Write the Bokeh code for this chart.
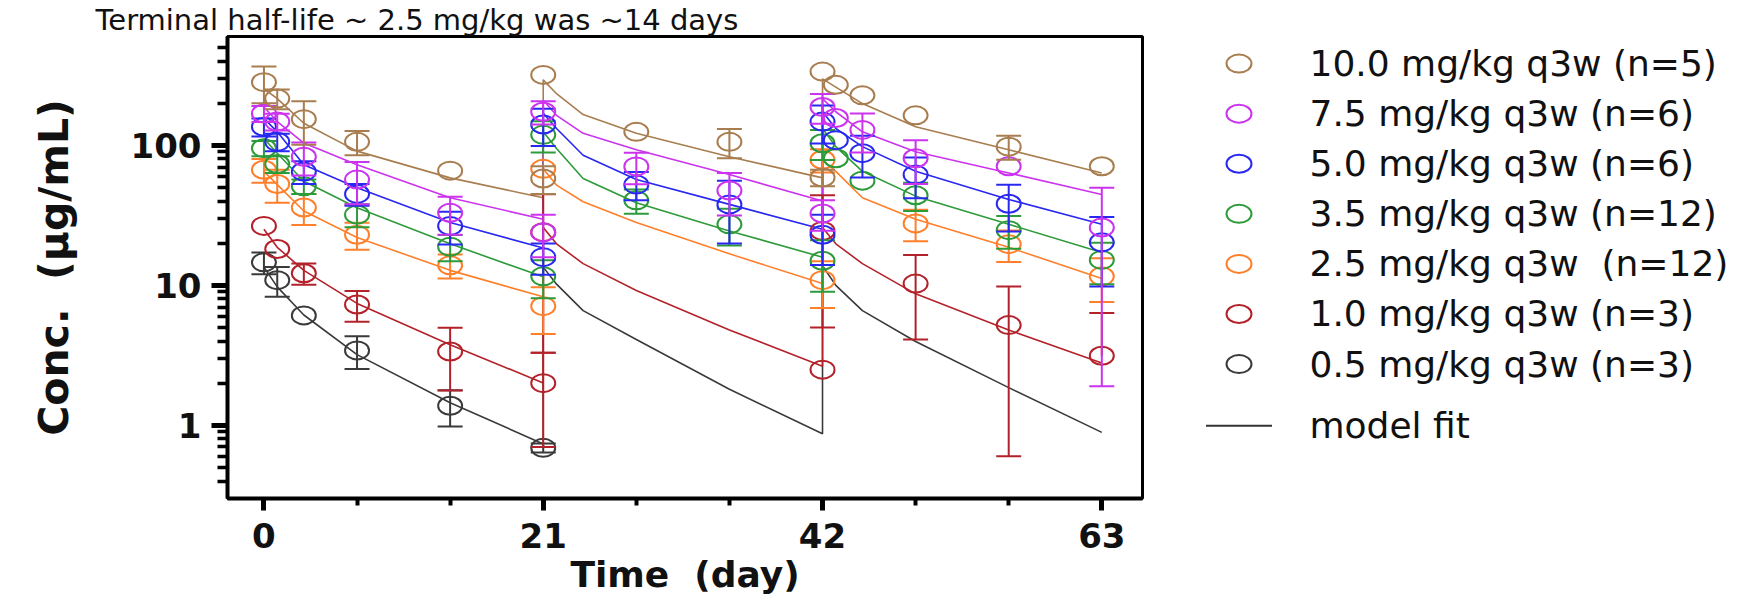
from bokeh.plotting import figure
from bokeh.models import Range1d, FixedTicker, BasicTickFormatter, ColumnDataSource
from bokeh.layouts import row
from bokeh.embed import file_html
from bokeh.resources import INLINE
from bokeh.core.properties import value

# ---------------- data ----------------
dose_labels = ["10.0 mg/kg q3w (n=5)", "7.5 mg/kg q3w (n=6)", "5.0 mg/kg q3w (n=6)",
               "3.5 mg/kg q3w (n=12)", "2.5 mg/kg q3w\u00a0 (n=12)", "1.0 mg/kg q3w (n=3)",
               "0.5 mg/kg q3w (n=3)"]
colors = ["#A87D4F", "#CC33EE", "#2828F0", "#2D9B3A", "#FF7F2A", "#B3222A", "#3A3A3A"]

x_ticks = [0, 21, 42, 63]
x_minor = [7, 14, 28, 35, 49, 56]
y_ticks = [1, 10, 100]
y_minor = [0.4, 0.5, 0.6, 0.7, 0.8, 0.9, 2, 3, 4, 5, 6, 7, 8, 9,
           20, 30, 40, 50, 60, 70, 80, 90, 200, 300, 400, 500]

days_full = [0, 1, 3, 7, 14, 21, 21, 28, 35, 42, 42, 43, 45, 49, 56, 63]
mean_d100 = [283, 216, 154, 106, 66, 58, 319, 125, 106, 59, 337, 271, 228, 164, 98, 71]
sd_d100 = [83, 35, 53, 21, 0, 13, 0, 0, 25, 8, 0, 0, 0, 0, 19, 0]
mean_d075 = [169, 148, 83, 57, 33, 23.9, 174, 70.8, 47.6, 32.6, 188, 157, 129, 81, 71, 25.9]
sd_d075 = [22, 20, 22, 19, 10, 8, 33, 18, 16, 8, 45, 0, 40, 28, 0, 24]
mean_d050 = [136, 106, 65, 45, 26.6, 15.9, 141, 52.5, 37.9, 23, 148, 109, 88, 61.9, 38.3, 20.3]
sd_d050 = [20, 15, 12, 8, 7, 4, 42, 12, 18, 9, 45, 0, 29, 20, 14, 10.5]
mean_d035 = [95.5, 73.6, 51, 32, 18.9, 11.6, 119, 40.5, 27.3, 15, 103.6, 81, 56, 44, 24.8, 15.2]
sd_d035 = [12, 10, 6, 6, 4, 3.5, 30, 8, 8, 6, 25, 0, 0, 10, 6.5, 5]
days_d025 = [0, 1, 3, 7, 14, 21, 21, 42, 42, 49, 56, 63]
mean_d025 = [67, 53, 36, 23, 13.9, 7.1, 68, 10.9, 79, 27.7, 19.7, 11.6]
sd_d025 = [13, 14, 9, 5, 2.7, 2.6, 0, 4, 15, 7, 5, 4]
days_d010 = [0, 1, 3, 7, 14, 21, 21, 42, 42, 49, 56, 63]
mean_d010 = [26.6, 18.2, 12.2, 7.3, 3.37, 2.0, 24, 2.5, 24.5, 10.3, 5.2, 3.14]
sd_d010 = [0, 0, 2.1, 1.8, 1.6, 1.3, 20.7, 0, 19.5, 6.2, 4.6, 3.2]
days_d005 = [0, 1, 3, 7, 14, 21]
mean_d005 = [14.6, 10.9, 6.1, 3.43, 1.38, 0.69]
sd_d005 = [2.6, 2.6, 0, 0.9, 0.4, 0.05]

fit_days = [0, 1, 3, 7, 14, 21, 21, 22, 24, 28, 35, 42, 42, 43, 45, 49, 56, 63]
fit_d100 = [254, 216, 144, 91, 58.6, 42.3, 294, 234, 166, 122, 83, 58.6, 299, 261, 199, 136, 93, 63.5]
fit_d075 = [188, 148, 104, 72.8, 42.3, 29.7, 210, 164, 122, 93, 61.9, 40, 216, 174, 125, 90, 63.5, 44.6]
fit_d050 = [156, 125, 72.8, 49.8, 28.1, 18.5, 170, 132, 85, 57, 37.9, 25.2, 174, 132, 98, 65.3, 41.1, 27.3]
fit_d035 = [112, 88, 55.5, 35.9, 19.8, 11.5, 125, 95, 58, 38.9, 24.5, 15.9, 132, 98, 65.3, 43.4, 27.3, 17.2]
fit_d025 = [65.3, 52.5, 34, 22, 12.8, 8.28, 68, 52, 39.6, 28.1, 16.8, 10.3, 79, 65.3, 42.3, 29.7, 18.7, 11.2]
fit_d010 = [25.2, 18.7, 12.8, 7.43, 3.76, 2.01, 25.9, 19.8, 14.3, 9.2, 4.8, 2.64, 25.9, 19.8, 14.3, 8.7, 4.8, 2.79]
fit_d005 = [13.5, 9.75, 6.14, 3.2, 1.45, 0.736, 13.5, 10.2, 6.6, 4.1, 1.81, 0.87, 13.8, 10.0, 6.6, 3.97, 1.86, 0.89]

title_text = "Terminal half-life ~ 2.5 mg/kg was ~14 days"
x_label = "Time\u00a0 (day)"
y_label = "Conc.\u00a0 (\u00b5g/mL)"
fit_label = "model fit"

series = [
    (colors[0], days_full, mean_d100, sd_d100, fit_d100),
    (colors[1], days_full, mean_d075, sd_d075, fit_d075),
    (colors[2], days_full, mean_d050, sd_d050, fit_d050),
    (colors[3], days_full, mean_d035, sd_d035, fit_d035),
    (colors[4], days_d025, mean_d025, sd_d025, fit_d025),
    (colors[5], days_d010, mean_d010, sd_d010, fit_d010),
    (colors[6], days_d005, mean_d005, sd_d005, fit_d005),
]

FONT = "DejaVu Sans"
H = 597
TOP, BOTTOM = 35, 97

# ---------------- main plot ----------------
p = figure(width=1150, height=H, y_axis_type="log",
           x_range=Range1d(-2.74, 66.06), y_range=Range1d(0.3, 600),
           output_backend="svg", toolbar_location=None,
           min_border_left=227, min_border_right=8, min_border_top=TOP, min_border_bottom=BOTTOM)
p.grid.visible = False
p.outline_line_color = "black"
p.outline_line_width = 3
p.background_fill_color = "white"
p.border_fill_color = "white"

# title (only its lower part is visible in the original; kept whole here)
p.title.text = title_text
p.title.text_font = FONT
p.title.text_font_style = "normal"
p.title.text_font_size = "29px"
p.title.text_color = "#111111"
p.title.align = "left"
p.title.offset = -132
p.title.standoff = 0

p.xaxis.ticker = FixedTicker(ticks=x_ticks, minor_ticks=x_minor)
p.yaxis.ticker = FixedTicker(ticks=y_ticks, minor_ticks=y_minor)
p.yaxis.formatter = BasicTickFormatter()
for ax in (p.xaxis, p.yaxis):
    ax.axis_line_width = 4
    ax.axis_line_color = "black"
    ax.major_tick_in = 0
    ax.minor_tick_in = 0
    ax.major_tick_line_color = "black"
    ax.minor_tick_line_color = "black"
    ax.major_label_text_font = FONT
    ax.major_label_text_font_style = "bold"
    ax.major_label_text_font_size = "34px"
    ax.major_label_text_color = "#111111"
    ax.axis_label_text_font = FONT
    ax.axis_label_text_font_style = "bold"
    ax.axis_label_text_color = "#111111"
p.yaxis.major_tick_out = 16
p.yaxis.minor_tick_out = 10
p.yaxis.major_tick_line_width = 5
p.yaxis.minor_tick_line_width = 3.5
p.yaxis.major_label_standoff = 10
p.yaxis.axis_label = y_label
p.yaxis.axis_label_text_font_size = "41px"
p.yaxis.axis_label_standoff = 50

p.xaxis.major_tick_out = 12
p.xaxis.minor_tick_out = 7
p.xaxis.major_tick_line_width = 5
p.xaxis.minor_tick_line_width = 4
p.xaxis.major_label_standoff = 12
p.xaxis.axis_label = x_label
p.xaxis.axis_label_text_font_size = "36px"
p.xaxis.axis_label_standoff = 3

# model fit lines
for color, days, mean, sd, fit in reversed(series):
    p.line(fit_days, fit, line_color=color, line_width=1.6)

# observations with SD bars
for color, days, mean, sd, fit in reversed(series):
    bx, blo, bhi, cx, cy = [], [], [], [], []
    for d, m, s in zip(days, mean, sd):
        if s <= 0:
            continue
        hi = m + s
        lo = m - s
        bx.append(d)
        bhi.append(hi)
        cx.append(d)
        cy.append(hi)
        if lo > 0:
            blo.append(lo)
            cx.append(d)
            cy.append(lo)
        else:
            blo.append(m)
    p.segment(x0=bx, y0=blo, x1=bx, y1=bhi, line_color=color, line_width=2)
    p.scatter(x=cx, y=cy, marker="dash", size=25, line_color=color, line_width=2)
    src = ColumnDataSource(dict(x=days, y=mean))
    p.ellipse(x="x", y="y", width=24, height=18, width_units="screen", height_units="screen",
              source=src, fill_color=None, line_color=color, line_width=2)

# ---------------- legend panel ----------------
LEG_X0, LEG_W = 1150, 589
leg = figure(width=LEG_W, height=H, x_range=Range1d(LEG_X0, LEG_X0 + LEG_W),
             y_range=Range1d(H - BOTTOM, TOP),
             output_backend="svg", toolbar_location=None,
             min_border_left=0, min_border_right=0, min_border_top=TOP, min_border_bottom=BOTTOM,
             x_axis_location=None, y_axis_location=None)
leg.grid.visible = False
leg.outline_line_color = None
leg.background_fill_color = "white"
leg.border_fill_color = "white"

row_y = [62.3 + 50.4 * i for i in range(len(dose_labels))]
fit_y = 426.7
marker_x, text_x = 1238.5, 1309
leg.ellipse(x=[marker_x] * len(colors), y=row_y, width=25, height=18, width_units="screen",
            height_units="screen", fill_color=None, line_color=colors, line_width=2)
leg.text(x=[text_x] * len(dose_labels), y=row_y, text=dose_labels, text_font=value(FONT),
         text_font_size="36px", text_baseline="middle", text_align="left", text_color="#111111")
leg.segment(x0=[marker_x - 33], y0=[fit_y], x1=[marker_x + 33], y1=[fit_y],
            line_color="#333333", line_width=2)
leg.text(x=[text_x], y=[fit_y], text=[fit_label], text_font=value(FONT),
         text_font_size="36px", text_baseline="middle", text_align="left", text_color="#111111")

layout = row(p, leg)
open("out.html", "w").write(file_html(layout, INLINE))
